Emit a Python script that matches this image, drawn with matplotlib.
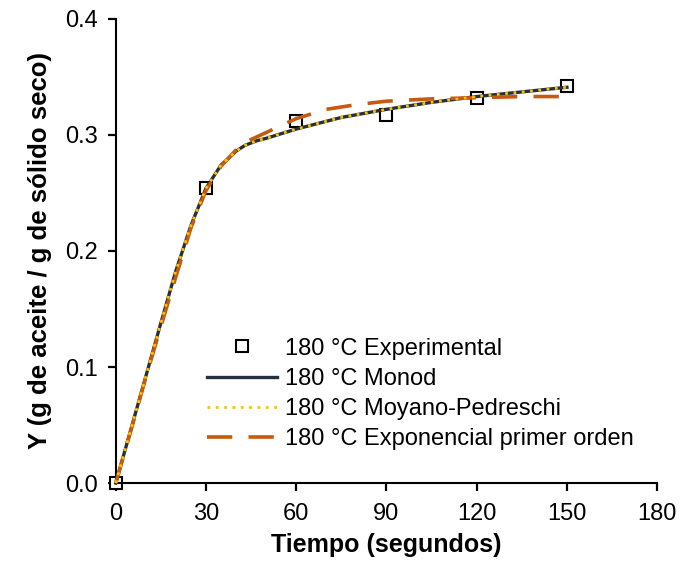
import matplotlib
matplotlib.use("Agg")
import matplotlib.pyplot as plt

plt.rcParams["font.family"] = ["Liberation Sans", "DejaVu Sans"]
for axis in ["xtick", "ytick"]:
    plt.rcParams[f"{axis}.labelsize"] = 17
    plt.rcParams[f"{axis}.direction"] = "out"
    plt.rcParams[f"{axis}.major.size"] = 5.5
    plt.rcParams[f"{axis}.major.width"] = 1.6
    plt.rcParams[f"{axis}.color"] = "black"
plt.rcParams["xtick.major.pad"] = 8.5
plt.rcParams["ytick.major.pad"] = 7.5

# experimental data (180 °C)
t_exp = [0, 30, 60, 90, 120, 150]
y_exp = [0.0, 0.254, 0.312, 0.317, 0.332, 0.342]

# model curves
t_monod = [0, 5, 10, 15, 20, 25, 30, 35, 40, 43, 47, 50, 60, 75, 90, 105, 120, 135, 150]
y_monod = [0.0, 0.046, 0.092, 0.138, 0.183, 0.222, 0.254, 0.274, 0.286, 0.291,
           0.295, 0.297, 0.305, 0.315, 0.322, 0.328, 0.333, 0.337, 0.341]

t_moyano = t_monod
y_moyano = y_monod

t_expo = [0, 5, 10, 15, 20, 25, 30, 35, 40, 45, 50, 55, 60, 65, 70, 80, 90, 105, 120, 135, 150]
y_expo = [0.0, 0.045, 0.091, 0.135, 0.178, 0.220, 0.252, 0.273, 0.287, 0.296,
          0.302, 0.308, 0.314, 0.318, 0.322, 0.326, 0.329, 0.331, 0.332, 0.333, 0.333]

x_ticks = [0, 30, 60, 90, 120, 150, 180]
y_ticks = [0.0, 0.1, 0.2, 0.3, 0.4]

fig = plt.figure(figsize=(6.81, 5.69), dpi=100)
ax = fig.add_axes([0.170, 0.151, 0.795, 0.816])

ax.plot(t_exp, y_exp, linestyle="none", marker="s", markersize=8.5,
        markerfacecolor="white", markeredgecolor="black", markeredgewidth=1.5,
        label="180 °C Experimental", zorder=2, clip_on=False)
ax.plot(t_monod, y_monod, color="#243040", linewidth=2.4,
        label="180 °C Monod", zorder=3, clip_on=False)
ax.plot(t_moyano, y_moyano, color="#FFC000", linewidth=2.0, linestyle=(0, (1, 2)),
        label="180 °C Moyano-Pedreschi", zorder=4, clip_on=False)
ax.plot(t_expo, y_expo, color="#C55A11", linewidth=2.6, linestyle=(0, (7, 4.5)),
        label="180 °C Exponencial primer orden", zorder=3.5, clip_on=False)

ax.set_xlim(0, 180)
ax.set_ylim(0, 0.4)
ax.set_xticks(x_ticks)
ax.set_yticks(y_ticks)
ax.set_yticklabels([f"{v:.1f}" for v in y_ticks])

for side in ["top", "right"]:
    ax.spines[side].set_visible(False)
for side in ["left", "bottom"]:
    ax.spines[side].set_linewidth(1.5)

ax.set_xlabel("Tiempo (segundos)", fontsize=18, fontweight="bold", labelpad=6)
ax.set_ylabel("Y (g de aceite / g de sólido seco)", fontsize=18.5, fontweight="bold", labelpad=9)

ax.legend(loc="upper left", bbox_to_anchor=(0.304, 0.4065), bbox_transform=fig.transFigure,
          frameon=False, fontsize=17, handlelength=2.97, handletextpad=0.34,
          labelspacing=0.35, borderpad=0, borderaxespad=0)

fig.savefig("out.png", dpi=100)
